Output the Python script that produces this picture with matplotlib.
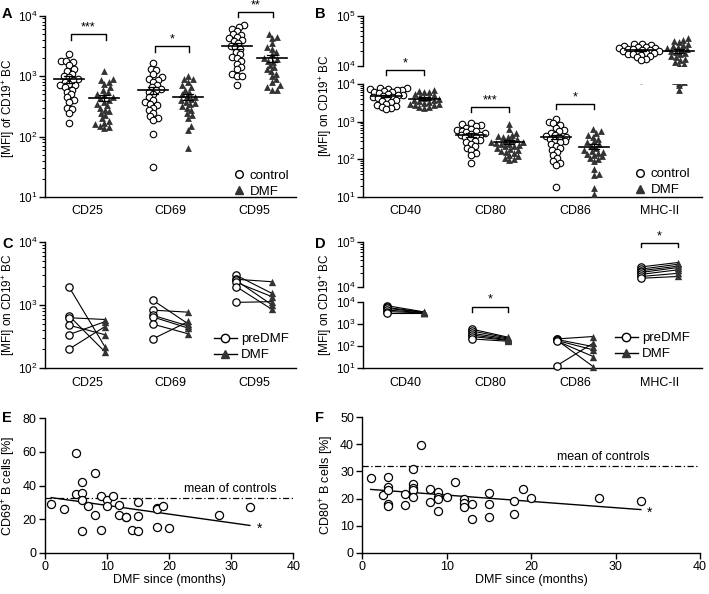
import numpy as np
import matplotlib
matplotlib.use("Agg")
import matplotlib.pyplot as plt
from matplotlib.lines import Line2D
from matplotlib.ticker import NullFormatter

plt.rcParams['font.family'] = ['Liberation Sans', 'DejaVu Sans']
plt.rcParams['font.size'] = 8.5
plt.rcParams['axes.linewidth'] = 1.0
plt.rcParams['mathtext.default'] = 'regular'

W, H = 709, 594
DMF_COL = '#333333'

# ---------------- data ----------------
# panel A: MFI on CD19+ B cells, controls vs DMF
a_labels = ['CD25', 'CD69', 'CD95']
a_cd25_ctrl = [2300, 1800, 1700, 1750, 1500, 1300, 1200, 1100, 1000, 950, 900, 850, 800, 750,
               700, 700, 650, 600, 550, 500, 450, 400, 380, 300, 290, 250, 170]
a_cd25_dmf = [1230, 900, 850, 800, 750, 650, 600, 550, 500, 480, 450, 430, 400, 380, 350, 330,
              300, 280, 260, 250, 230, 200, 180, 160, 150, 140, 145, 170]
a_cd69_ctrl = [1650, 1300, 1250, 1100, 950, 900, 850, 800, 700, 650, 620, 580, 550, 500, 450,
               400, 380, 350, 330, 300, 270, 250, 220, 200, 190, 110, 31]
a_cd69_dmf = [1000, 900, 880, 800, 700, 650, 600, 550, 500, 470, 450, 420, 400, 380, 360, 340,
              320, 300, 280, 250, 230, 200, 150, 130, 65]
a_cd95_ctrl = [7000, 6500, 6000, 5500, 5000, 4800, 4500, 4200, 4000, 3800, 3500, 3200, 3000,
               2800, 2500, 2300, 2100, 2000, 1800, 1600, 1400, 1300, 1100, 1000, 1000, 700]
a_cd95_dmf = [5000, 4500, 4300, 3500, 3000, 2800, 2500, 2300, 2000, 1900, 1800, 1700, 1500,
              1400, 1300, 1200, 1100, 1000, 900, 800, 700, 650, 600, 600]

# panel B
b_labels = ['CD40', 'CD80', 'CD86', 'MHC-II']
b_cd40_ctrl = [8000, 7800, 7500, 7200, 7000, 6800, 6500, 6200, 6000, 5800, 5500, 5200, 5000,
               4800, 4600, 4400, 4200, 4000, 3800, 3500, 3300, 3000, 2800, 2600, 2500, 2300, 2200]
b_cd40_dmf = [7000, 6500, 6300, 6000, 5500, 5000, 4800, 4500, 4300, 4000, 3800, 3700, 3500,
              3300, 3200, 3000, 2900, 2800, 2700, 2500, 2400, 2300]
b_cd80_ctrl = [900, 850, 800, 750, 700, 650, 600, 580, 550, 520, 500, 480, 450, 430, 400, 380,
               350, 330, 300, 280, 250, 220, 200, 180, 150, 130, 80]
b_cd80_dmf = [870, 620, 500, 450, 420, 400, 380, 350, 330, 300, 290, 280, 270, 260, 250, 240,
              230, 220, 200, 190, 180, 170, 160, 150, 130, 120, 110, 100, 95]
b_cd86_ctrl = [1200, 1000, 900, 800, 700, 600, 550, 500, 450, 420, 400, 380, 350, 320, 300,
               280, 250, 230, 200, 180, 160, 130, 110, 90, 80, 70, 18]
b_cd86_dmf = [620, 550, 500, 450, 400, 350, 300, 280, 250, 230, 200, 180, 170, 160, 150, 140,
              130, 120, 110, 100, 90, 56, 40, 38, 17, 12]
b_mhc_ctrl = [28000, 27000, 26000, 25000, 24000, 23500, 23000, 22500, 22000, 21500, 21000,
              20500, 20000, 19500, 19000, 18500, 18000, 17500, 17000, 16500, 16000, 15000,
              14000, 13000]
b_mhc_dmf = [36000, 33000, 32000, 30000, 28000, 26000, 25000, 24000, 23000, 22000, 21000,
             20000, 19000, 18000, 17000, 16000, 15000, 14000, 13000, 12000, 11000, 10500,
             9500, 7000]

# panel C: paired preDMF -> DMF
c_cd25_pre = [1950, 680, 630, 480, 340, 200]
c_cd25_dmf = [220, 183, 590, 340, 545, 455]
c_cd69_pre = [1200, 830, 690, 650, 500, 290]
c_cd69_dmf = [500, 770, 465, 430, 350, 550]
c_cd95_pre = [2950, 2550, 2450, 2280, 1950, 1100]
c_cd95_dmf = [1520, 2330, 1000, 1350, 850, 1130]

# panel D
d_cd40_pre = [6600, 5500, 5000, 4200, 3600, 3000]
d_cd40_dmf = [3500, 3400, 3300, 3200, 3100, 3000]
d_cd80_pre = [580, 480, 380, 320, 270, 210]
d_cd80_dmf = [250, 230, 210, 190, 180, 165]
d_cd86_pre = [210, 200, 190, 180, 170, 13]
d_cd86_dmf = [270, 95, 12, 68, 34, 135]
d_mhc_pre = [28000, 25000, 23000, 21000, 19000, 17000, 15500]
d_mhc_dmf = [35000, 32000, 29000, 27000, 24000, 20000, 17000]

# panel E / F: correlation with DMF duration
e_months = [1, 3, 5, 5, 6, 6, 6, 6, 7, 8, 8, 9, 9, 10, 10, 11, 12, 12, 13, 13, 14, 15, 15, 15,
            18, 18, 18, 19, 20, 28, 33]
e_cd69 = [28.8, 25.8, 59.1, 34.7, 42.3, 35.3, 31.3, 13.1, 27.8, 47.2, 22.4, 33.7, 13.5, 31.3,
          27.8, 33.9, 28.4, 22.4, 21.4, 21.0, 13.5, 30.4, 22.0, 12.9, 26.8, 25.8, 15.5, 27.8,
          14.5, 22.4, 27.0]
e_ctrl_mean = 32.3
f_months = [1, 2.5, 3, 3, 3, 3, 3, 5, 5, 6, 6, 6, 6, 6, 7, 8, 8, 9, 9, 9, 9, 10, 11, 12, 12,
            12, 13, 13, 15, 15, 15, 18, 18, 19, 20, 28, 33]
f_cd80 = [27.5, 21.3, 28.1, 24.1, 23.2, 18.0, 17.2, 21.7, 17.6, 30.9, 25.4, 23.8, 23.2, 20.4,
          39.8, 23.5, 18.8, 22.5, 20.4, 19.8, 15.4, 20.4, 26.2, 19.7, 18.5, 17.0, 17.9, 12.4,
          22.2, 17.9, 13.1, 19.2, 14.3, 23.4, 20.1, 20.3, 19.2]
f_ctrl_mean = 32.0


def rect(l, r, t, b):
    return [l / W, 1 - b / H, (r - l) / W, (b - t) / H]


def style_log(ax):
    for s in ['top', 'right']:
        ax.spines[s].set_visible(False)
    ax.yaxis.set_minor_formatter(NullFormatter())
    ax.tick_params(axis='y', which='major', length=4, width=1, labelsize=8.5, pad=1.5)
    ax.tick_params(axis='y', which='minor', length=2, width=0.7)
    ax.tick_params(axis='x', length=0, labelsize=9, pad=6)


def swarm(ax_of, center, values, diam=4.8):
    disp = [ax_of(v).transData.transform((center, v)) for v in values]
    x0 = disp[0][0]
    cands = [0.0]
    for k in range(1, 120):
        cands += [k * 0.5, -k * 0.5]
    placed = []
    out = np.zeros(len(values))
    for i in np.argsort([d[1] for d in disp]):
        y = disp[i][1]
        for c in cands:
            if all((c - px) ** 2 + (y - py) ** 2 >= diam ** 2 for px, py in placed):
                break
        placed.append((c, y))
        out[i] = ax_of(values[i]).transData.inverted().transform((x0 + c, y))[0]
    return out


def group(axes, ax_of, center, values, filled):
    xs = swarm(ax_of, center, values)
    for ax in axes:
        if filled:
            ax.scatter(xs, values, s=24, marker='^', color=DMF_COL, lw=0, zorder=3)
        else:
            ax.scatter(xs, values, s=22, marker='o', facecolor='white', edgecolor='black',
                       lw=0.8, zorder=3)
        m = np.mean(values)
        sem = np.std(values, ddof=1) / np.sqrt(len(values))
        ax.plot([center - 0.36, center + 0.36], [m, m], color='black', lw=1.2, zorder=4)
        ax.plot([center, center], [m - sem, m + sem], color='black', lw=0.9, zorder=4)
        for yy in (m - sem, m + sem):
            ax.plot([center - 0.12, center + 0.12], [yy, yy], color='black', lw=0.9, zorder=4)


def bracket(ax, x1, x2, y, y_tick, text):
    ax.plot([x1, x1, x2, x2], [y_tick, y, y, y_tick], color='black', lw=1, clip_on=False)
    ax.annotate(text, xy=((x1 + x2) / 2, y), xytext=(0, 0.5), textcoords='offset points',
                ha='center', va='bottom', fontsize=9, annotation_clip=False)


def paired(ax, center, pre, post):
    for p, q in zip(pre, post):
        ax.plot([center - 0.43, center + 0.43], [p, q], color='black', lw=0.8, zorder=2,
                clip_on=False)
    ax.scatter([center - 0.43] * len(pre), pre, s=28, marker='o', facecolor='white',
               edgecolor='black', lw=0.9, zorder=3, clip_on=False)
    ax.scatter([center + 0.43] * len(post), post, s=28, marker='^', color=DMF_COL, lw=0,
               zorder=3, clip_on=False)


fig = plt.figure(figsize=(W / 100, H / 100), dpi=100)

# ---------------- A ----------------
axA = fig.add_axes(rect(45, 296, 15.7, 197))
axA.set_yscale('log')
axA.set_ylim(10, 1e4)
axA.set_xlim(0, 6)
style_log(axA)
axA.set_xticks([1, 3, 5])
axA.set_xticklabels(a_labels)
a_groups = [(a_cd25_ctrl, a_cd25_dmf), (a_cd69_ctrl, a_cd69_dmf), (a_cd95_ctrl, a_cd95_dmf)]
for k, (ctrl, dmf) in enumerate(a_groups):
    c = 1 + 2 * k
    group([axA], lambda v: axA, c - 0.42, ctrl, False)
    group([axA], lambda v: axA, c + 0.42, dmf, True)
bracket(axA, 0.62, 1.45, 4900, 3960, '***')
bracket(axA, 2.62, 3.45, 3150, 2530, '*')
bracket(axA, 4.62, 5.45, 11600, 9600, '**')
hA = [Line2D([], [], marker='o', ls='none', mfc='white', mec='black', ms=5.5),
      Line2D([], [], marker='^', ls='none', color=DMF_COL, ms=5.5)]
axA.legend(hA, ['control', 'DMF'], loc='lower right', bbox_to_anchor=(1.02, -0.07),
           frameon=False, handletextpad=0.3, labelspacing=0.3, handlelength=1,
           fontsize=9.5)


# ---------------- B ----------------
def broken(top_rect, bot_rect):
    up = fig.add_axes(top_rect)
    lo = fig.add_axes(bot_rect)
    for ax, lim in ((up, (1e4, 1e5)), (lo, (10, 1e4))):
        ax.set_yscale('log')
        ax.set_ylim(*lim)
        ax.set_xlim(0, 8)
        style_log(ax)
    up.spines['bottom'].set_visible(False)
    up.set_xticks([])
    up.set_yticks([1e4, 1e5])
    lo.set_yticks([1e1, 1e2, 1e3, 1e4])
    lo.set_xticks([1, 3, 5, 7])
    lo.set_xticklabels(b_labels)
    return up, lo


bUp, bLo = broken(rect(363, 702, 15.7, 66), rect(363, 702, 84, 197))
b_of = lambda v: bUp if v > 1e4 else bLo
b_groups = [(b_cd40_ctrl, b_cd40_dmf), (b_cd80_ctrl, b_cd80_dmf),
            (b_cd86_ctrl, b_cd86_dmf), (b_mhc_ctrl, b_mhc_dmf)]
for k, (ctrl, dmf) in enumerate(b_groups):
    c = 1 + 2 * k
    group([bUp, bLo], b_of, c - 0.45, ctrl, False)
    group([bUp, bLo], b_of, c + 0.45, dmf, True)
bracket(bLo, 0.55, 1.45, 23600, 17300, '*')
bracket(bLo, 2.55, 3.45, 2400, 1780, '***')
bracket(bLo, 4.55, 5.45, 2890, 2130, '*')
bLo.legend(hA, ['control', 'DMF'], loc='lower right', bbox_to_anchor=(1.0, -0.1),
           frameon=False, handletextpad=0.3, labelspacing=0.3, handlelength=1,
           fontsize=9.5)

# ---------------- C ----------------
axC = fig.add_axes(rect(45, 296, 241.7, 368.3))
axC.set_yscale('log')
axC.set_ylim(100, 1e4)
axC.set_xlim(0, 6)
style_log(axC)
axC.set_xticks([1, 3, 5])
axC.set_xticklabels(a_labels)
for k, (p, q) in enumerate([(c_cd25_pre, c_cd25_dmf), (c_cd69_pre, c_cd69_dmf),
                            (c_cd95_pre, c_cd95_dmf)]):
    paired(axC, 1 + 2 * k, p, q)
hC = [Line2D([], [], marker='o', color='black', mfc='white', mec='black', ms=6, lw=1),
      Line2D([], [], marker='^', color='black', mfc=DMF_COL, mec=DMF_COL, ms=6, lw=1)]
axC.legend(hC, ['preDMF', 'DMF'], loc='lower right', bbox_to_anchor=(1.02, -0.04),
           frameon=False, handletextpad=0.3, labelspacing=0.3, handlelength=1.8,
           fontsize=9.5)

# ---------------- D ----------------
dUp, dLo = broken(rect(363, 702, 242.3, 286.7), rect(363, 702, 301.7, 368.3))
for k, (p, q) in enumerate([(d_cd40_pre, d_cd40_dmf), (d_cd80_pre, d_cd80_dmf),
                            (d_cd86_pre, d_cd86_dmf)]):
    paired(dLo, 1 + 2 * k, p, q)
paired(dUp, 7, d_mhc_pre, d_mhc_dmf)
bracket(dLo, 2.57, 3.43, 6000, 3560, '*')
bracket(dUp, 6.57, 7.43, 96000, 77000, '*')
dLo.legend(hC, ['preDMF', 'DMF'], loc='lower right', bbox_to_anchor=(1.0, -0.06),
           frameon=False, handletextpad=0.3, labelspacing=0.3, handlelength=1.8,
           fontsize=9.5)


# ---------------- E / F ----------------
def corr(r, months, vals, ymax, ystep, ctrl_mean, ylab, txt_xy, star_xy):
    ax = fig.add_axes(r)
    ax.scatter(months, vals, s=34, marker='o', facecolor='white', edgecolor='black',
               lw=0.9, zorder=3)
    slope, icpt = np.polyfit(months, vals, 1)
    xx = np.array([min(months), max(months)])
    ax.plot(xx, slope * xx + icpt, color='black', lw=1)
    ax.axhline(ctrl_mean, color='black', lw=0.9, ls=(0, (5, 2, 1, 2)))
    ax.text(txt_xy[0], txt_xy[1], 'mean of controls', ha='center', va='bottom', fontsize=9)
    ax.text(star_xy[0], star_xy[1], '*', ha='center', va='center', fontsize=10)
    ax.set_xlim(0, 40)
    ax.set_ylim(0, ymax)
    ax.set_xticks([0, 10, 20, 30, 40])
    ax.set_yticks(np.arange(0, ymax + 1, ystep))
    for s in ['top', 'right']:
        ax.spines[s].set_visible(False)
    ax.tick_params(length=4, width=1, labelsize=9, pad=2)
    ax.set_xlabel('DMF since (months)', fontsize=9, labelpad=1)
    ax.set_ylabel(ylab, fontsize=9, labelpad=3)
    return ax


axE = corr(rect(45, 293.3, 418.3, 552.7), e_months, e_cd69, 80, 20, e_ctrl_mean,
           'CD69$^{+}$ B cells [%]', (29.8, 34.3), (34.5, 14.5))
axF = corr(rect(362.3, 700, 417.3, 552.7), f_months, f_cd80, 50, 10, f_ctrl_mean,
           'CD80$^{+}$ B cells [%]', (28.6, 33.2), (34, 14.6))

# y labels for the MFI panels
for x, y, txt in [(9, 108, '[MFI] of CD19$^{+}$ BC'), (326, 106, '[MFI] on CD19$^{+}$ BC'),
                  (9, 305, '[MFI] on CD19$^{+}$ BC'), (326, 305, '[MFI] on CD19$^{+}$ BC')]:
    fig.text(x / W, 1 - y / H, txt, rotation=90, ha='center', va='center', fontsize=8.5)

for letter, x, y in [('A', 2, 14), ('B', 315, 14), ('C', 2, 244), ('D', 315, 244),
                     ('E', 2, 418), ('F', 315, 418)]:
    fig.text(x / W, 1 - y / H, letter, fontweight='bold', fontsize=10.5, ha='left',
             va='center')

fig.savefig('out.png', dpi=100)
